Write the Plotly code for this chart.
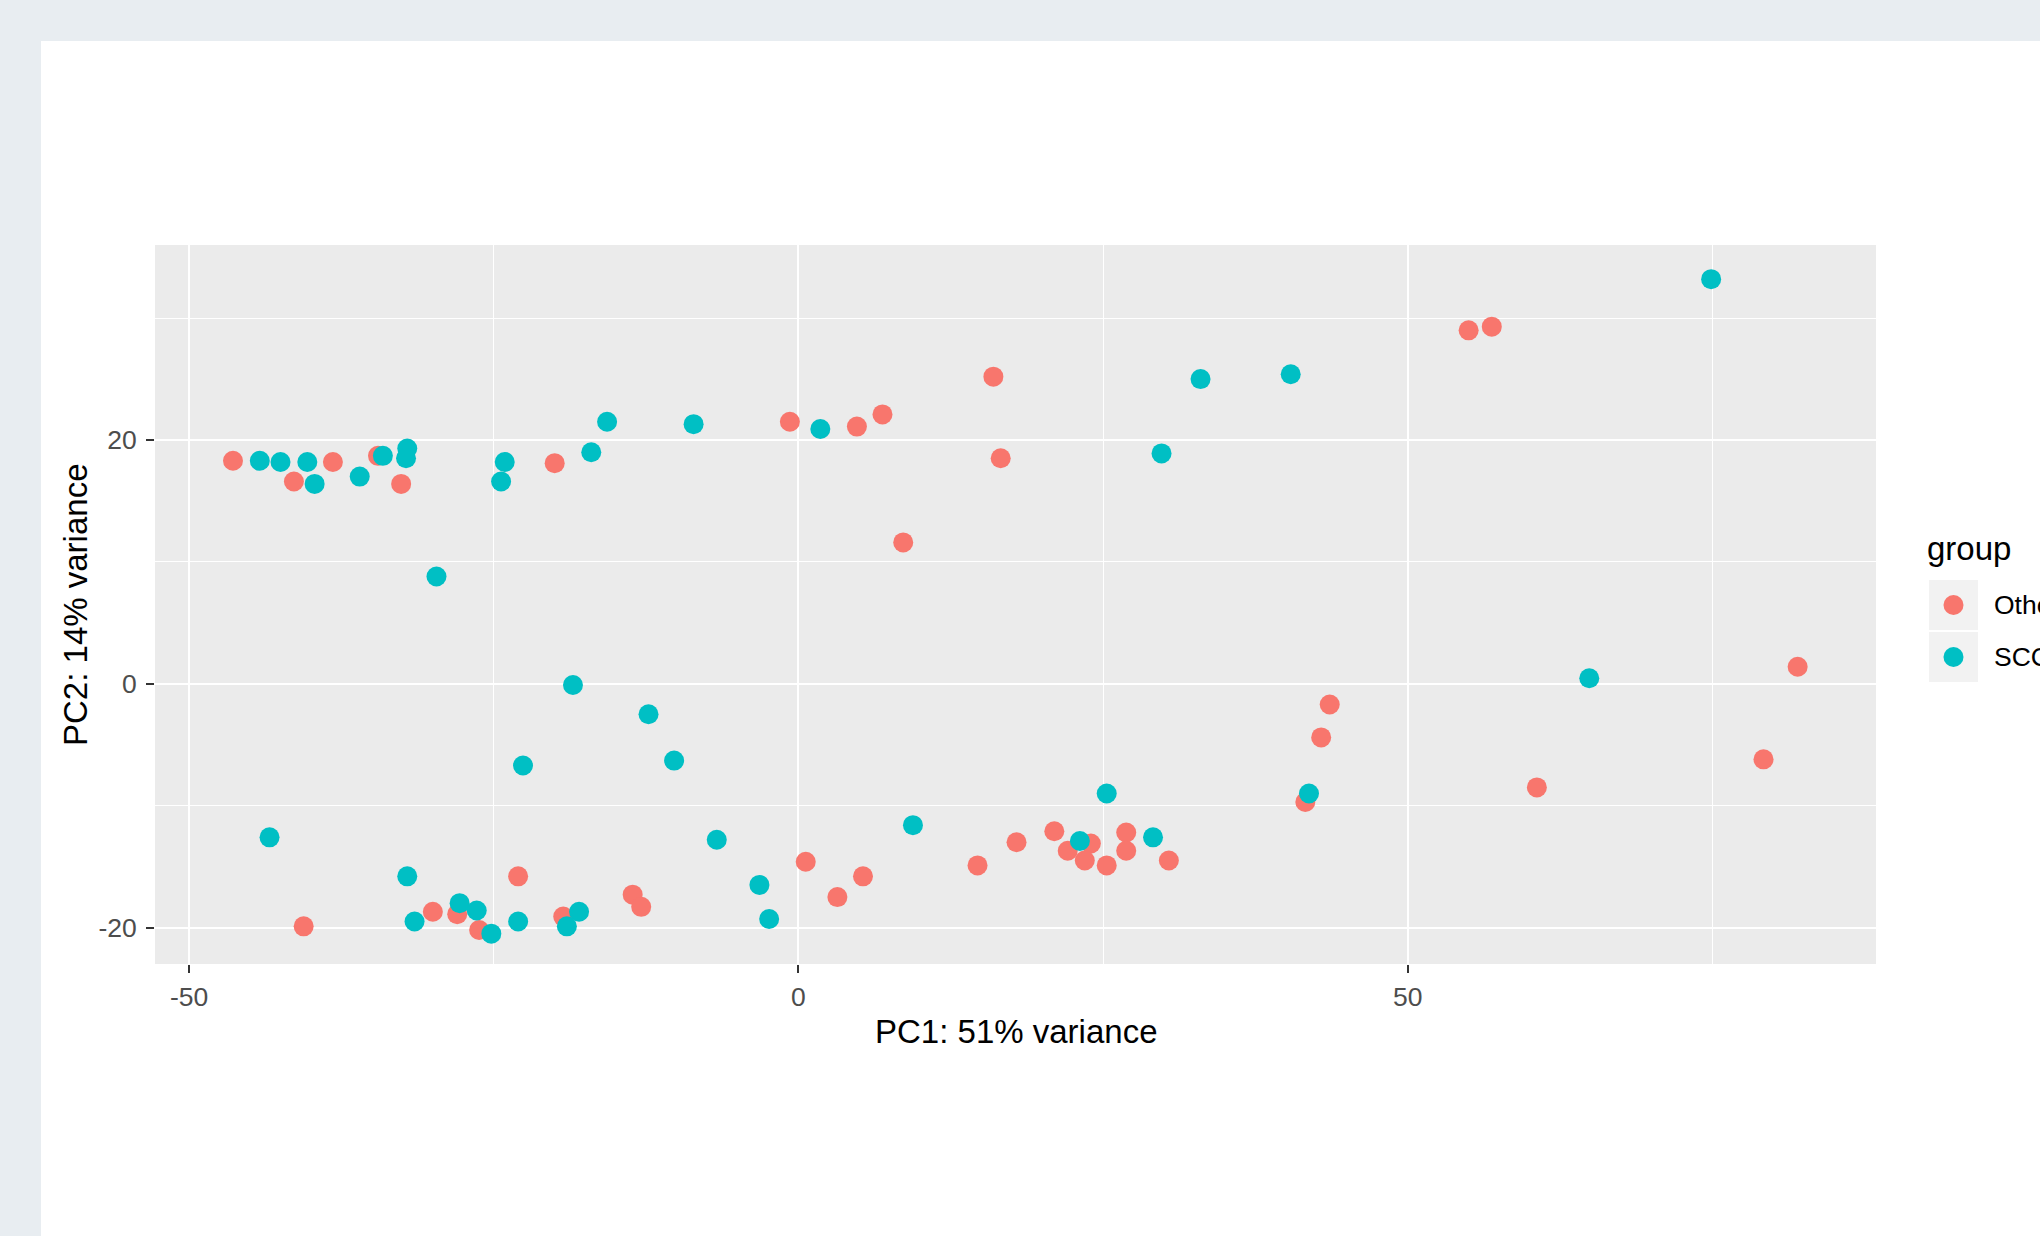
import plotly.graph_objects as go

# ---------------- data ----------------
groups = ["Other", "SCC"]
group_colors = ["#F8766D", "#00BFC4"]

other_pc1 = [-46.4, -41.4, -38.2, -34.5, -32.6, -20.0, -0.7, 4.8, 6.9, 16.0, 16.6, 8.6,
             55.0, 56.9, 43.6, 42.9, 41.6, 82.0, 79.2, 60.6, 0.6, 5.3, 3.2, 14.7,
             17.9, 21.0, 22.1, 24.0, 23.5, 25.3, 26.9, 26.9, 30.4, -23.0, -13.6, -12.9,
             -40.6, -30.0, -28.0, -26.2, -19.3]
other_pc2 = [18.3, 16.6, 18.2, 18.7, 16.4, 18.1, 21.5, 21.1, 22.1, 25.2, 18.5, 11.6,
             29.0, 29.3, -1.7, -4.4, -9.7, 1.4, -6.2, -8.5, -14.6, -15.8, -17.5, -14.9,
             -13.0, -12.1, -13.7, -13.1, -14.5, -14.9, -12.2, -13.7, -14.5, -15.8, -17.3, -18.3,
             -19.9, -18.7, -18.9, -20.2, -19.1]

scc_pc1 = [-44.2, -42.5, -40.3, -39.7, -36.0, -34.1, -32.1, -32.2, -29.7, -24.1, -24.4,
           -17.0, -15.7, -8.6, 1.8, -18.5, -12.3, -22.6, -10.2, -43.4, -6.7, -32.1, -3.2,
           -2.4, -31.5, -27.8, -26.4, -25.2, -23.0, -18.0, -19.0, 33.0, 40.4, 29.8, 41.9,
           25.3, 9.4, 23.1, 29.1, 74.9, 64.9]
scc_pc2 = [18.3, 18.2, 18.2, 16.4, 17.0, 18.7, 19.3, 18.5, 8.8, 18.2, 16.6,
           19.0, 21.5, 21.3, 20.9, -0.1, -2.5, -6.7, -6.3, -12.6, -12.8, -15.8, -16.5,
           -19.3, -19.5, -18.0, -18.6, -20.5, -19.5, -18.7, -19.9, 25.0, 25.4, 18.9, -9.0,
           -9.0, -11.6, -12.9, -12.6, 33.2, 0.45]

x_tickvals = [-50, 0, 50]
x_ticktext = ["-50", "0", "50"]
x_minor = [-25, 25, 75]
y_tickvals = [-20, 0, 20]
y_ticktext = ["-20", "0", "20"]
y_minor = [-10, 10, 30]

x_title = "PC1: 51% variance"
y_title = "PC2: 14% variance"
legend_title = "group"

# ---------------- layout geometry ----------------
W, H = 2040, 1236
L, R, T, B = 155, 164, 245, 272
PW = W - L - R
PH = H - T - B


def px(X):
    return (X - L) / PW


def py(Y):
    return 1 - (Y - T) / PH


FONT = "Liberation Sans, Arial, sans-serif"
TITLE_SIZE = 33
TEXT_SIZE = 26.5

fig = go.Figure()
series = [(other_pc1, other_pc2), (scc_pc1, scc_pc2)]
for (xs, ys), name, col in zip(series, groups, group_colors):
    fig.add_trace(go.Scatter(
        x=xs, y=ys, mode="markers", name=name,
        marker=dict(color=col, size=20, line=dict(width=0)),
        showlegend=False, cliponaxis=False,
    ))

axis_common = dict(
    showgrid=True, gridcolor="white", gridwidth=2.2,
    zeroline=False, showline=False,
    ticks="outside", ticklen=8, tickwidth=2, tickcolor="#333333",
    tickfont=dict(family=FONT, size=TEXT_SIZE, color="#4D4D4D"),
)

fig.update_xaxes(
    range=[-52.8, 88.43], tickmode="array", tickvals=x_tickvals, ticktext=x_ticktext,
    minor=dict(tickmode="array", tickvals=x_minor, showgrid=True,
               gridcolor="white", gridwidth=1.1, ticks=""),
    ticklabelstandoff=1,
    **axis_common,
)
fig.update_yaxes(
    range=[-22.99, 36.0], tickmode="array", tickvals=y_tickvals, ticktext=y_ticktext,
    minor=dict(tickmode="array", tickvals=y_minor, showgrid=True,
               gridcolor="white", gridwidth=1.1, ticks=""),
    ticklabelstandoff=4,
    **axis_common,
)

shapes = [
    # outer viewer frame (grey strips)
    dict(type="rect", xref="paper", yref="paper", x0=px(0), x1=px(W), y0=py(0), y1=py(41),
         fillcolor="#E8EDF1", line=dict(width=0), layer="below"),
    dict(type="rect", xref="paper", yref="paper", x0=px(0), x1=px(41), y0=py(0), y1=py(H),
         fillcolor="#E8EDF1", line=dict(width=0), layer="below"),
]

annotations = [
    dict(text=x_title, xref="paper", yref="paper", x=0.5, y=py(1031),
         xanchor="center", yanchor="middle", showarrow=False,
         font=dict(family=FONT, size=TITLE_SIZE, color="black")),
    dict(text=y_title, xref="paper", yref="paper", x=px(75), y=py(605),
         xanchor="center", yanchor="middle", showarrow=False, textangle=-90,
         font=dict(family=FONT, size=TITLE_SIZE, color="black")),
    dict(text=legend_title, xref="paper", yref="paper", x=px(1925), y=py(548),
         xanchor="left", yanchor="middle", showarrow=False,
         font=dict(family=FONT, size=TITLE_SIZE, color="black")),
]

key_top = 580
key_h = 52
for i, (name, col) in enumerate(zip(groups, group_colors)):
    y0 = key_top + i * key_h
    shapes.append(dict(type="rect", xref="paper", yref="paper",
                       x0=px(1929), x1=px(1978), y0=py(y0), y1=py(y0 + 50),
                       fillcolor="#F2F2F2", line=dict(width=0)))
    cy = y0 + 25
    shapes.append(dict(type="circle", xref="paper", yref="paper",
                       x0=px(1953.5 - 10), x1=px(1953.5 + 10), y0=py(cy - 10), y1=py(cy + 10),
                       fillcolor=col, line=dict(width=0)))
    annotations.append(dict(text=name, xref="paper", yref="paper", x=px(1992), y=py(cy),
                            xanchor="left", yanchor="middle", showarrow=False,
                            font=dict(family=FONT, size=TEXT_SIZE, color="black")))

fig.update_layout(
    width=W, height=H,
    margin=dict(l=L, r=R, t=T, b=B, pad=0),
    paper_bgcolor="white", plot_bgcolor="#EBEBEB",
    font=dict(family=FONT),
    showlegend=False,
    shapes=shapes, annotations=annotations,
)

fig.write_html("out.html", config={"displayModeBar": False},
               post_script="document.body.style.margin='0';document.body.style.overflow='hidden';")
